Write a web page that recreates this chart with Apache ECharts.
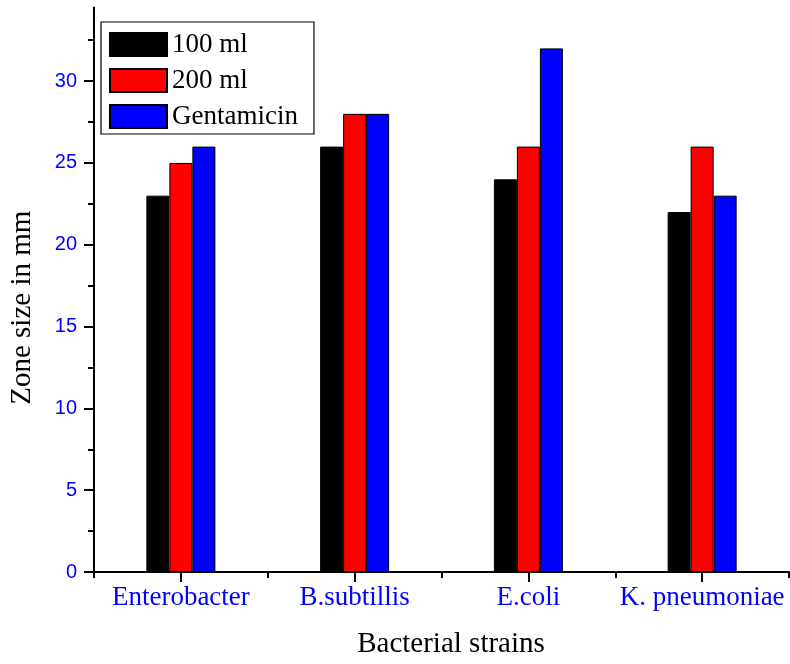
<!DOCTYPE html>
<html>
<head>
<meta charset="utf-8">
<script src="https://cdn.jsdelivr.net/npm/echarts@6/dist/echarts.min.js"></script>
<style>
  html, body { margin: 0; padding: 0; background: #fff; }
  #chart { width: 790px; height: 664px; }
</style>
</head>
<body>
<div id="chart"></div>
<script>
// Inhibition zone sizes (mm) per bacterial strain
const strains = ['Enterobacter', 'B.subtillis', 'E.coli', 'K. pneumoniae'];
const dose100 = [23, 26, 24, 22];
const dose200 = [25, 28, 26, 26];
const gentamicin = [26, 28, 32, 23];
const seriesNames = ['100 ml', '200 ml', 'Gentamicin'];
const seriesColors = ['#000000', '#ff0000', '#0000ff'];

// Y axis tick positions
const yMajorTicks = [0, 5, 10, 15, 20, 25, 30];
const yMinorTicks = [2.5, 7.5, 12.5, 17.5, 22.5, 27.5, 32.5];
const yMax = 34.5;

const serif = '"Liberation Serif", "Times New Roman", serif';
const sans = '"Liberation Sans", Arial, sans-serif';
const blue = '#0000ff';

const chart = echarts.init(document.getElementById('chart'), null, { renderer: 'canvas' });

const values = [dose100, dose200, gentamicin];

chart.setOption({
  backgroundColor: '#fff',
  animation: false,
  grid: { left: 94, right: 1, top: 7.5, bottom: 92, containLabel: false, outerBoundsMode: 'none' },
  legend: {
    orient: 'vertical',
    left: 101,
    top: 22,
    icon: 'rect',
    itemWidth: 57,
    itemHeight: 23,
    itemGap: 9,
    padding: [9, 16, 4, 8],
    borderColor: '#000',
    borderWidth: 1.2,
    data: seriesNames,
    textStyle: { fontFamily: serif, fontSize: 27, color: '#000' }
  },
  xAxis: [
    {
      type: 'category',
      data: strains,
      position: 'bottom',
      name: 'Bacterial strains',
      nameLocation: 'middle',
      nameGap: 58,
      nameTextStyle: { fontFamily: serif, fontSize: 29, color: '#000', padding: [0, 0, 0, 19] },
      axisLine: { show: true, lineStyle: { color: '#000', width: 2 } },
      axisTick: { show: true, alignWithLabel: true, length: 10, lineStyle: { color: '#000', width: 2 } },
      axisLabel: { color: blue, fontFamily: serif, fontSize: 27, margin: 12, interval: 0, hideOverlap: false },
      splitLine: { show: false }
    },
    {
      // boundary ticks between strains
      type: 'category',
      data: strains,
      position: 'bottom',
      axisLine: { show: false },
      axisTick: { show: true, length: 6, interval: 0, lineStyle: { color: '#000', width: 2 } },
      axisLabel: { show: false },
      splitLine: { show: false }
    }
  ],
  yAxis: [
    {
      type: 'value',
      min: 0,
      max: yMax,
      interval: 5,
      position: 'left',
      name: 'Zone size in mm',
      nameLocation: 'middle',
      nameGap: 57,
      nameTextStyle: { fontFamily: serif, fontSize: 29, color: '#000', padding: [0, 36, 0, 0] },
      axisLine: { show: true, lineStyle: { color: '#000', width: 2 } },
      axisTick: { show: true, length: 10, customValues: yMajorTicks, lineStyle: { color: '#000', width: 2 } },
      axisLabel: { color: blue, fontFamily: sans, fontSize: 20, margin: 17, customValues: yMajorTicks },
      splitLine: { show: false }
    },
    {
      // minor ticks halfway between labelled values
      type: 'value',
      min: 0,
      max: yMax,
      position: 'left',
      axisLine: { show: false },
      axisTick: { show: true, length: 6, customValues: yMinorTicks, lineStyle: { color: '#000', width: 2 } },
      axisLabel: { show: false, customValues: [] },
      splitLine: { show: false }
    }
  ],
  series: seriesNames.map((name, i) => ({
    name: name,
    type: 'bar',
    xAxisIndex: 0,
    yAxisIndex: 0,
    data: values[i],
    barWidth: 23,
    barGap: '0%',
    itemStyle: { color: seriesColors[i], borderColor: '#000', borderWidth: 1 }
  }))
});
</script>
</body>
</html>
